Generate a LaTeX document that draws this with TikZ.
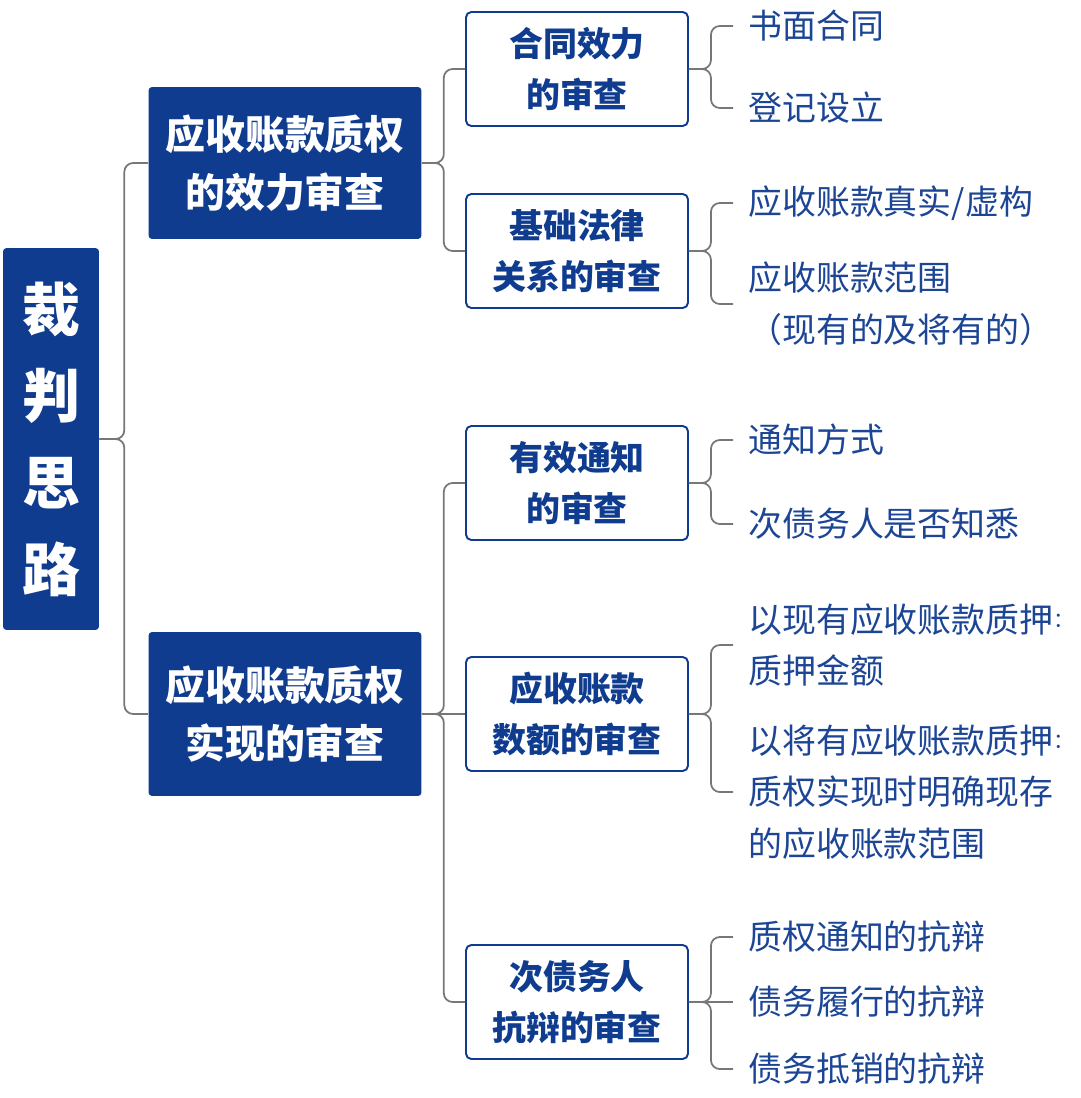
\documentclass[tikz,border=0pt]{standalone}
\usepackage{fontspec}
\setmainfont{Noto Sans CJK SC}
\usepackage{xcolor}
\definecolor{judgeblue}{HTML}{0F3C8F}
\definecolor{leafblue}{HTML}{1C4595}
\definecolor{linegray}{HTML}{777777}
\tikzset{
	root/.style = {shape=rectangle, fill=judgeblue, text=white, rounded corners=2pt, minimum width=1.92cm, minimum height=7.64cm, align=center, inner sep=0pt, font=\bfseries\fontsize{33pt}{49.3pt}\selectfont},
	topic/.style = {shape=rectangle, fill=judgeblue, text=white, rounded corners=2pt, minimum width=5.46cm, minimum height=3.1cm, align=center, inner sep=0pt, font=\bfseries\fontsize{22.7pt}{32.9pt}\selectfont},
	subtopic/.style = {shape=rectangle, draw=judgeblue, fill=white, line width=1.1pt, text=judgeblue, rounded corners=3pt, minimum width=4.44cm, minimum height=2.28cm, align=center, inner sep=0pt, font=\bfseries\fontsize{19.3pt}{29pt}\selectfont},
	leaf/.style = {anchor=west, text=leafblue, align=left, inner xsep=0.3cm, inner ysep=0pt, font=\fontsize{19.3pt}{29.5pt}\selectfont}
}
\newcommand{\tailcolon}{\raisebox{2.4pt}{\fontsize{12pt}{12pt}\selectfont ：}}

\begin{document}
\begin{tikzpicture}[
    x=0.02cm, y=-0.02cm,
    conn/.style={
        draw=linegray,
        line width=1pt,
        rounded corners=5pt
        }]
	\useasboundingbox (0,0) rectangle (1080,1098);

		% root and topics
		\node[root](judge) at (51,439) {裁\\判\\思\\路};
		\node[topic, minimum height=3.04cm](effect) at (285,163) {应收账款质权\\的效力审查};
		\node[topic, minimum height=3.28cm](realize) at (285,714) {应收账款质权\\实现的审查};

		% sub topics
		\node[subtopic](contract) at (577,69) {合同效力\\的审查};
		\node[subtopic](basis) at (577,251) {基础法律\\关系的审查};
		\node[subtopic](notice) at (577,483) {有效通知\\的审查};
		\node[subtopic](amount) at (577,714) {应收账款\\数额的审查};
		\node[subtopic](defense) at (577,1002) {次债务人\\抗辩的审查};

		% leaves
		\node[leaf](written) at (733,26) {书面合同};
		\node[leaf](register) at (733,108) {登记设立};
		\node[leaf](genuine) at (733,203) {应收账款真实/虚构};
		\node[leaf](scope) at (733,304) {应收账款范围\\（现有的及将有的）};
		\node[leaf](mode) at (733,440) {通知方式};
		\node[leaf](aware) at (733,524) {次债务人是否知悉};
		\node[leaf](present) at (733,645) {以现有应收账款质押\tailcolon\\质押金额};
		\node[leaf](future) at (733,792) {以将有应收账款质押\tailcolon\\质权实现时明确现存\\的应收账款范围};
		\node[leaf](pnotice) at (733,937) {质权通知的抗辩};
		\node[leaf](perform) at (733,1002) {债务履行的抗辩};
		\node[leaf](setoff) at (733,1069) {债务抵销的抗辩};

		% connectors
		\foreach \kid in {effect,realize}
			\draw[conn] (judge.east) -- ++(25,0) |- (\kid.west);
		\foreach \kid in {contract,basis}
			\draw[conn] (effect.east) -- ++(22,0) |- (\kid.west);
		\foreach \kid in {notice,defense}
			\draw[conn] (realize.east) -- ++(22,0) |- (\kid.west);
		\draw[conn] (realize.east) -- (amount.west);
		\foreach \kid in {written,register}
			\draw[conn] (contract.east) -- ++(22,0) |- (\kid.west);
		\foreach \kid in {genuine,scope}
			\draw[conn] (basis.east) -- ++(22,0) |- (\kid.west);
		\foreach \kid in {mode,aware}
			\draw[conn] (notice.east) -- ++(22,0) |- (\kid.west);
		\foreach \kid in {present,future}
			\draw[conn] (amount.east) -- ++(22,0) |- (\kid.west);
		\foreach \kid in {pnotice,setoff}
			\draw[conn] (defense.east) -- ++(22,0) |- (\kid.west);
		\draw[conn] (defense.east) -- (perform.west);
\end{tikzpicture}
\end{document}
